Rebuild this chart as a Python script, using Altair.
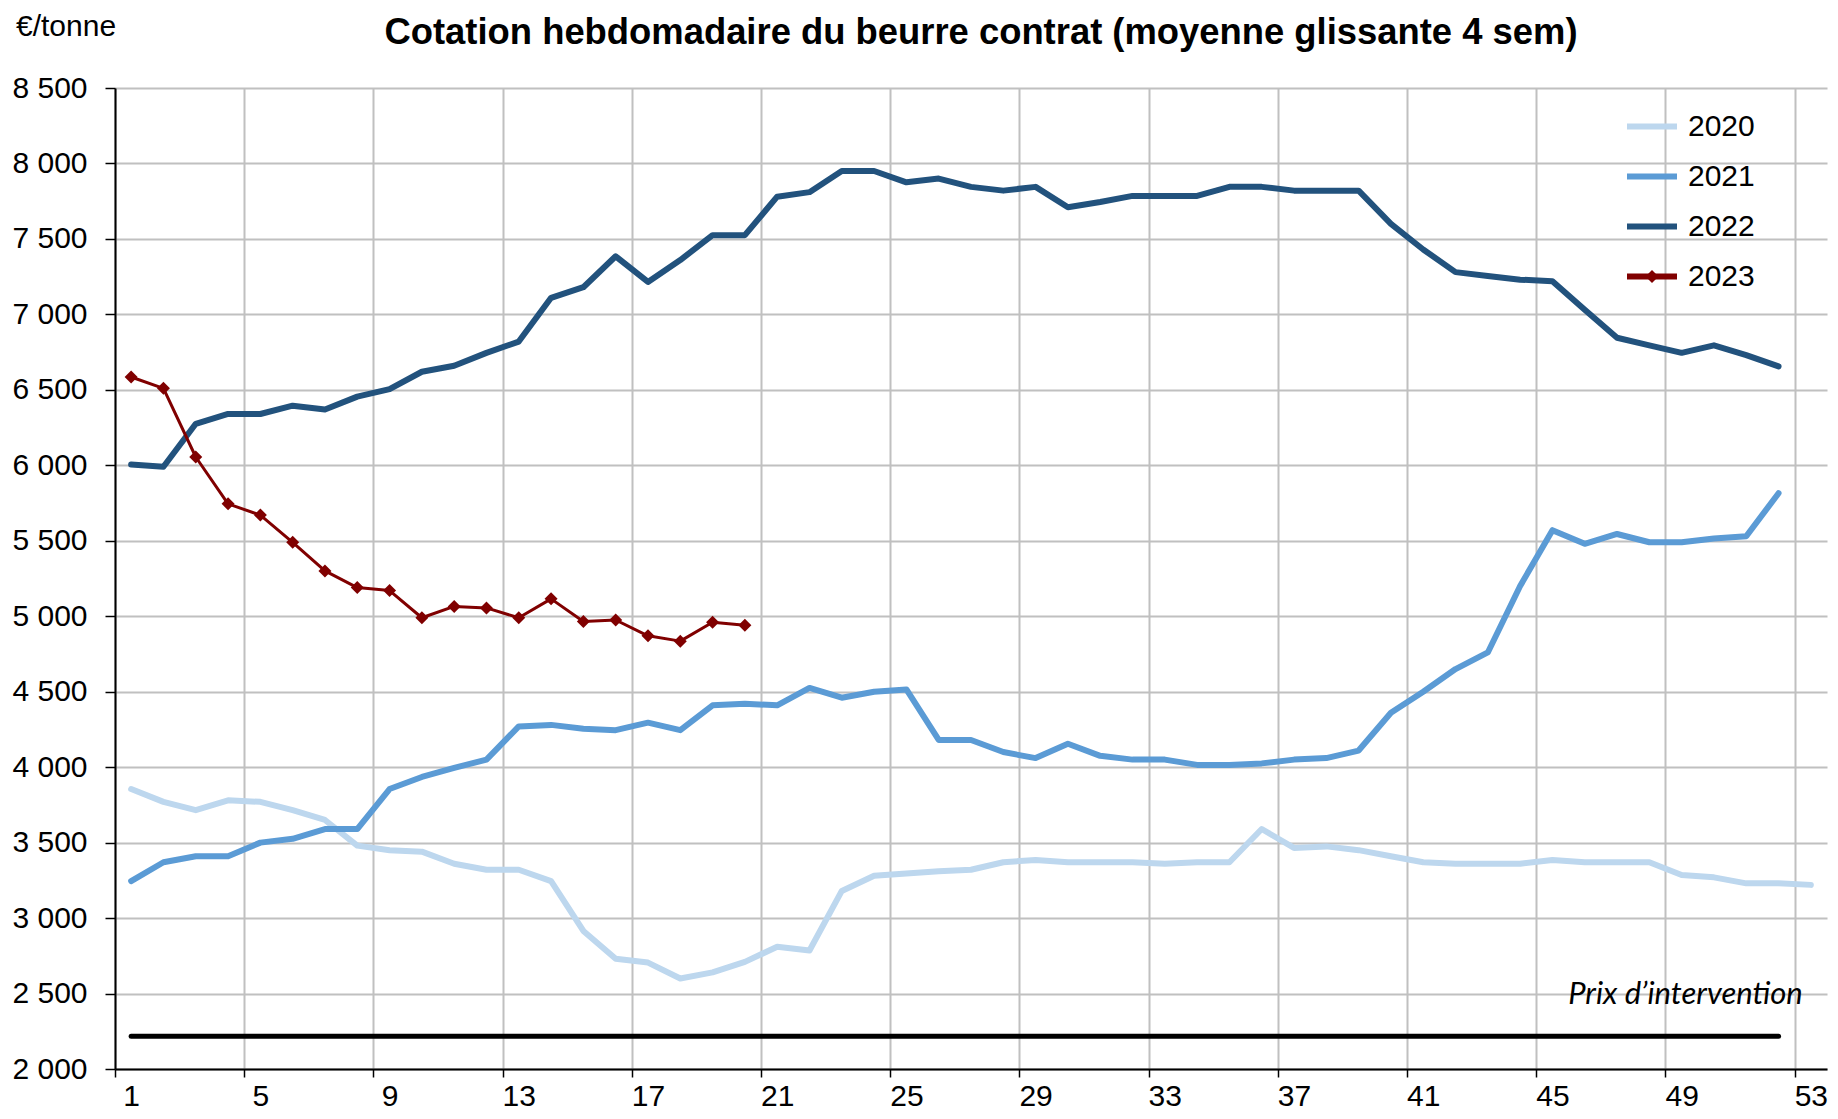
import altair as alt
import pandas as pd

# ---------------- data ----------------
years = ["2020", "2021", "2022", "2023"]
colors = ["#BDD7EE", "#5B9BD5", "#22527D", "#800000"]

val_2020 = [3855, 3770, 3715, 3780, 3770, 3715, 3650, 3480, 3450, 3440,
            3360, 3320, 3320, 3245, 2915, 2730, 2705, 2600, 2640, 2710,
            2810, 2785, 3180, 3280, 3295, 3310, 3320, 3370, 3385, 3370,
            3370, 3370, 3360, 3370, 3370, 3590, 3465, 3475, 3450, 3410,
            3370, 3360, 3360, 3360, 3385, 3370, 3370, 3370, 3285, 3270,
            3230, 3230, 3220]
val_2021 = [3245, 3370, 3410, 3410, 3500, 3525, 3590, 3590, 3855, 3935,
            3995, 4050, 4270, 4280, 4255, 4245, 4295, 4245, 4410, 4420,
            4410, 4525, 4460, 4500, 4515, 4180, 4180, 4100, 4060, 4155,
            4075, 4050, 4050, 4015, 4015, 4025, 4050, 4060, 4110, 4360,
            4500, 4650, 4760, 5200, 5570, 5480, 5545, 5490, 5490, 5515,
            5530, 5815]
val_2022 = [6005, 5990, 6275, 6340, 6340, 6395, 6370, 6455, 6505, 6620,
            6660, 6745, 6820, 7110, 7180, 7385, 7215, 7360, 7525, 7525,
            7780, 7810, 7950, 7950, 7875, 7900, 7845, 7820, 7845, 7710,
            7745, 7785, 7785, 7785, 7845, 7845, 7820, 7820, 7820, 7600,
            7430, 7280, 7255, 7230, 7220, 7030, 6845, 6795, 6745, 6795,
            6730, 6655]
val_2023 = [6585, 6510, 6055, 5745, 5670, 5490, 5300, 5190, 5170, 4990,
            5065, 5055, 4990, 5115, 4965, 4975, 4870, 4835, 4960, 4940]

intervention_weeks = [1, 52]
intervention_price = 2217.5
intervention_label = "Prix d\u2019intervention"
unit_label = "\u20ac/tonne"
title_text = "Cotation hebdomadaire du beurre contrat (moyenne glissante 4 sem)"

y_ticks = list(range(2000, 8501, 500))
x_bounds = [0.5 + 4 * k for k in range(14)]  # category boundaries 0.5 .. 52.5

# marker legend keys (one per legend row, only the last one carries the diamond)
marker_keys = ["a", "b", "c", "d"]
EMPTY_PATH = "M0,0L0,0"
DIAMOND_PATH = "M0,-0.26L0.26,0L0,0.26L-0.26,0Z"
marker_shapes = [EMPTY_PATH, EMPTY_PATH, EMPTY_PATH, DIAMOND_PATH]

# ---------------- tables ----------------
rows = []
for yr, vals in zip(years, [val_2020, val_2021, val_2022, val_2023]):
    for i, v in enumerate(vals):
        rows.append({"week": i + 1, "value": v, "year": yr})
df = pd.DataFrame(rows)
df_old = df[df["year"] != "2023"]
df23 = df[df["year"] == "2023"].assign(mk="d")
df_int = pd.DataFrame({"week": intervention_weeks,
                       "value": [intervention_price] * len(intervention_weeks)})
df_lab = pd.DataFrame({"week": [52.75], "value": [2490], "label": [intervention_label]})
df_unit = pd.DataFrame({"label": [unit_label]})

X_MIN, X_MAX = 0.5, 53.5
W, H = 1712, 981
cat_px = W / (X_MAX - X_MIN)

FONT = "Liberation Sans"
GRID = "#C0C0C0"

x_axis = alt.Axis(values=x_bounds, grid=True, gridColor=GRID, gridWidth=2,
                  ticks=True, tickSize=8, tickColor="black", tickWidth=1.5,
                  domain=True, domainColor="black", domainWidth=2,
                  labelExpr="format(datum.value + 0.5, 'd')",
                  labelOffset=cat_px / 2, labelFlush=False, labelOverlap=False,
                  labelFont=FONT, labelFontSize=30, labelColor="black",
                  labelPadding=4, title=None)
y_axis = alt.Axis(values=y_ticks, grid=True, gridColor=GRID, gridWidth=2,
                  ticks=True, tickSize=10, tickColor="black", tickWidth=1.5,
                  domain=True, domainColor="black", domainWidth=2,
                  labelExpr="replace(format(datum.value, ','), ',', ' ')",
                  labelFont=FONT, labelFontSize=30, labelColor="black",
                  labelPadding=18, title=None)

x_enc = alt.X("week:Q", scale=alt.Scale(domain=[X_MIN, X_MAX], nice=False, zero=False), axis=x_axis)
y_enc = alt.Y("value:Q", scale=alt.Scale(domain=[2000, 8500], nice=False, zero=False), axis=y_axis)

color_scale = alt.Scale(domain=years, range=colors)

LEG_X, LEG_Y, LEG_ROWPAD = 1509, 10.5, 7
line_legend = alt.Legend(orient="none", legendX=LEG_X, legendY=LEG_Y, title=None,
                         symbolType="stroke", symbolSize=2500, symbolStrokeWidth=6,
                         labelFont=FONT, labelFontSize=30, labelColor="black",
                         labelOffset=8, rowPadding=LEG_ROWPAD, padding=0, direction="vertical",
                         symbolOpacity=1)
marker_legend = alt.Legend(orient="none", legendX=LEG_X, legendY=LEG_Y, title=None,
                           symbolSize=2500, symbolStrokeWidth=6,
                           symbolStrokeColor="transparent", symbolFillColor="#800000",
                           labelExpr="''", labelFont=FONT, labelFontSize=30,
                           labelOffset=8, rowPadding=LEG_ROWPAD, padding=0, direction="vertical",
                           symbolOpacity=1)

interv = alt.Chart(df_int).mark_line(color="black", strokeWidth=5, strokeCap="round").encode(
    x=x_enc, y=y_enc)

lines_old = alt.Chart(df_old).mark_line(strokeWidth=6, strokeCap="round", strokeJoin="round").encode(
    x=x_enc, y=y_enc,
    color=alt.Color("year:N", scale=color_scale, legend=line_legend),
)

line_23 = alt.Chart(df23).mark_line(strokeWidth=3, strokeCap="round", strokeJoin="round").encode(
    x=x_enc, y=y_enc,
    color=alt.Color("year:N", scale=color_scale, legend=line_legend),
)

pts = alt.Chart(df23).mark_point(filled=True, size=2500, color="#800000", strokeWidth=0,
                                 opacity=1).encode(
    x=x_enc, y=y_enc,
    shape=alt.Shape("mk:N", scale=alt.Scale(domain=marker_keys, range=marker_shapes),
                    legend=marker_legend),
)

lab = alt.Chart(df_lab).mark_text(align="right", baseline="middle", font="Lato",
                                  fontStyle="italic", fontSize=31, color="black").encode(
    x=x_enc, y=y_enc, text="label:N")

unit = alt.Chart(df_unit).mark_text(align="left", baseline="middle", font=FONT,
                                    fontSize=30, color="black").encode(
    x=alt.value(-99), y=alt.value(-61), text="label:N")

chart = alt.layer(interv, lines_old, line_23, pts, lab, unit).properties(
    width=W, height=H,
    title=alt.TitleParams(title_text, font=FONT, fontWeight="bold",
                          fontSize=36.4, color="black", anchor="middle", frame="group",
                          baseline="alphabetic", offset=0, dx=10, dy=68),
    padding={"left": 107, "top": 80, "right": 3, "bottom": 42},
    autosize=alt.AutoSizeParams(type="none"),
).configure_view(stroke=None)

chart.save("out.html", embed_options={"renderer": "svg", "actions": False})
